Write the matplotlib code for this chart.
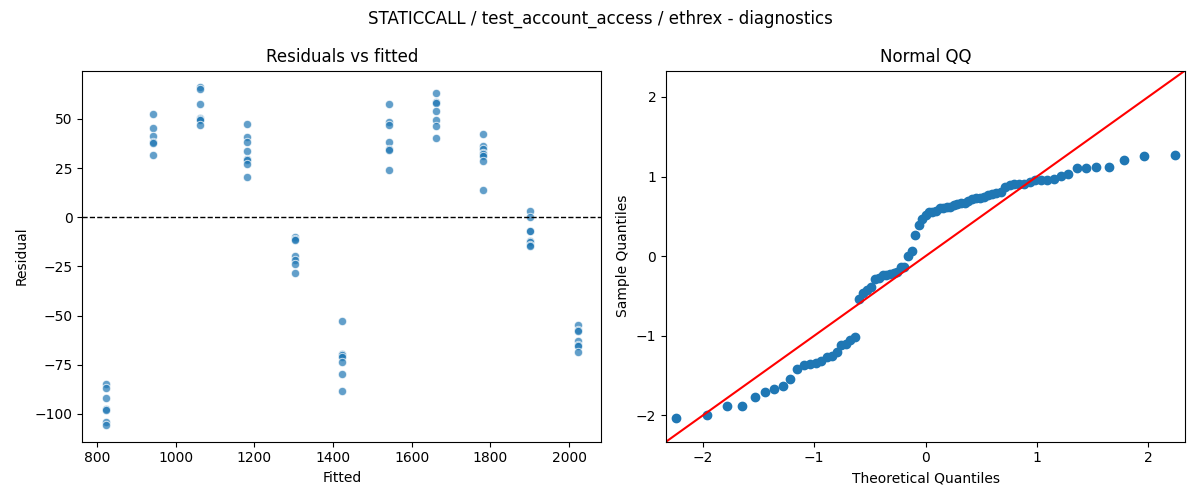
import numpy as np
import matplotlib
matplotlib.use("Agg")
import matplotlib.pyplot as plt
from statistics import NormalDist

# fitted value of each group and the residuals
fitted_levels = [822, 942, 1062, 1182, 1302, 1422, 1542, 1662, 1782, 1902, 2022]
residuals_by_level = [
    [-84.8, -87.0, -92.1, -97.6, -98.0, -104.0, -105.6],
    [52.4, 45.3, 41.4, 38.5, 37.7, 31.6],
    [66.0, 65.3, 57.4, 50.5, 50.0, 49.5, 47.0],
    [47.3, 40.9, 38.2, 33.6, 29.5, 29.0, 26.9, 20.4],
    [-10.1, -11.0, -11.7, -19.8, -21.8, -23.8, -28.2],
    [-53.0, -69.6, -70.2, -71.3, -73.8, -79.9, -88.5],
    [57.4, 48.3, 47.0, 38.2, 34.5, 34.0, 24.2],
    [63.0, 58.5, 58.0, 53.9, 49.5, 46.5, 40.2],
    [42.2, 36.3, 34.5, 32.5, 32.0, 31.3, 28.7, 14.0],
    [3.4, 0.2, -6.8, -7.2, -12.0, -12.5, -14.3, -14.7],
    [-54.6, -57.5, -58.0, -62.8, -65.0, -65.6, -68.4],
]

fitted = np.concatenate([[f] * len(r) for f, r in zip(fitted_levels, residuals_by_level)])
resid = np.concatenate([np.array(r) for r in residuals_by_level])

# normal QQ: standardized residuals against normal quantiles i/(n+1)
n = len(resid)
sample_q = np.sort((resid - resid.mean()) / resid.std())
theo_q = np.array([NormalDist().inv_cdf(i / (n + 1)) for i in range(1, n + 1)])

fig, (ax1, ax2) = plt.subplots(1, 2, figsize=(12, 5), dpi=100)

ax1.scatter(fitted, resid, s=36, alpha=0.7, edgecolors="white", linewidths=0.75)
ax1.axhline(0, color="black", linestyle="--", linewidth=1)
ax1.set_xlabel("Fitted")
ax1.set_ylabel("Residual")
ax1.set_title("Residuals vs fitted")

ax2.plot(theo_q, sample_q, "o", color="C0")
lim = (-2.33, 2.33)
ax2.plot(lim, lim, "r")
ax2.set_xlim(lim)
ax2.set_ylim(lim)
ax2.set_xlabel("Theoretical Quantiles")
ax2.set_ylabel("Sample Quantiles")
ax2.set_title("Normal QQ")

fig.suptitle("STATICCALL / test_account_access / ethrex - diagnostics")
fig.tight_layout()
fig.savefig("out.png")
